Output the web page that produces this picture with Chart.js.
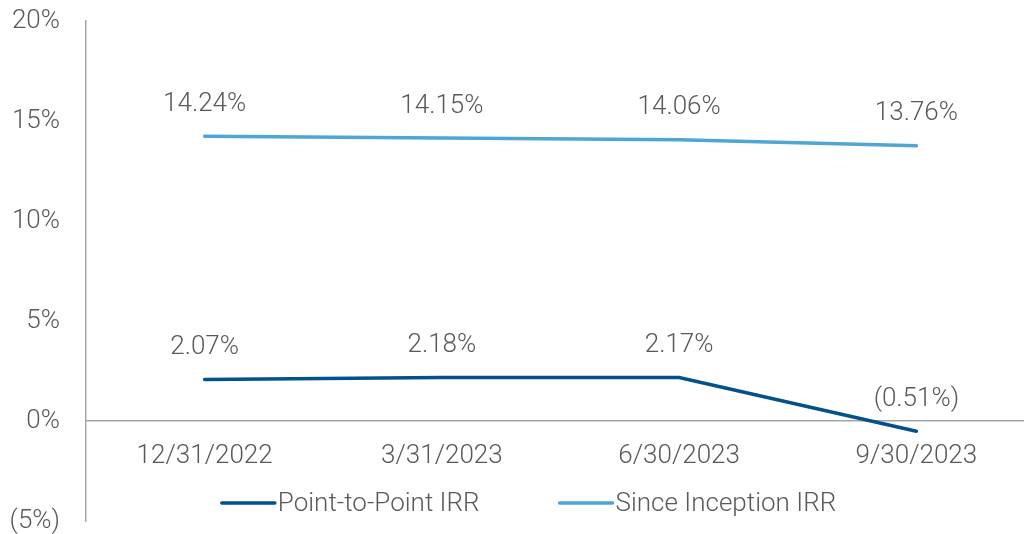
<!DOCTYPE html>
<html>
<head>
<meta charset="utf-8">
<script src="https://cdn.jsdelivr.net/npm/chart.js@4"></script>
<style>
  html, body { margin: 0; padding: 0; background: #fff; overflow: hidden; }
  #wrap { position: relative; width: 1035px; height: 534px; }
</style>
</head>
<body>
<div id="wrap"><canvas id="irrChart"></canvas></div>
<script>
// data
const quarters = ['12/31/2022', '3/31/2023', '6/30/2023', '9/30/2023'];
const pointToPoint = [2.07, 2.18, 2.17, -0.51];
const sinceInception = [14.24, 14.15, 14.06, 13.76];
const seriesNames = ['Point-to-Point IRR', 'Since Inception IRR'];
const yTicks = [-5, 0, 5, 10, 15, 20];

const textColor = '#595959';
const axisColor = '#a6a6a6';
const font = { family: 'Roboto', size: 26, weight: '300' };

function fmtPct(v, digits) {
    const s = Math.abs(v).toFixed(digits) + '%';
    return v < 0 ? '(' + s + ')' : s;
}

// value labels above each point
const valueLabels = {
    id: 'valueLabels',
    afterDatasetsDraw(chart) {
        const c = chart.ctx;
        c.save();
        c.font = `${font.weight} ${font.size}px ${font.family}`;
        c.fillStyle = textColor;
        c.textAlign = 'center';
        c.textBaseline = 'middle';
        chart.data.datasets.forEach((ds, i) => {
            chart.getDatasetMeta(i).data.forEach((pt, j) => {
                c.fillText(fmtPct(ds.data[j], 2), pt.x, pt.y - 32);
            });
        });
        c.restore();
    }
};

// legend drawn inside the plot, near the bottom
const bottomLegend = {
    id: 'bottomLegend',
    afterDraw(chart) {
        const c = chart.ctx;
        c.save();
        c.font = `${font.weight} ${font.size}px ${font.family}`;
        const lineLen = 53, textGap = 3, itemGap = 80, y = 503;
        const items = chart.data.datasets.map(ds => ({
            ds, w: lineLen + textGap + c.measureText(ds.label).width
        }));
        const total = items.reduce((a, it) => a + it.w, 0) + itemGap * (items.length - 1);
        let x = 529 - total / 2;
        items.forEach(it => {
            c.strokeStyle = it.ds.borderColor;
            c.lineWidth = 3.5;
            c.lineCap = 'round';
            c.beginPath();
            c.moveTo(x, y);
            c.lineTo(x + lineLen, y);
            c.stroke();
            c.fillStyle = textColor;
            c.textAlign = 'left';
            c.textBaseline = 'middle';
            c.fillText(it.ds.label, x + lineLen + textGap, y + 1);
            x += it.w + itemGap;
        });
        c.restore();
    }
};

new Chart(document.getElementById('irrChart'), {
    type: 'line',
    data: {
        labels: quarters,
        datasets: [{
            label: seriesNames[0],
            data: pointToPoint,
            borderColor: '#02528a',
            borderWidth: 3.5,
            borderCapStyle: 'round',
            pointRadius: 0,
            tension: 0
        }, {
            label: seriesNames[1],
            data: sinceInception,
            borderColor: '#4ea5d6',
            borderWidth: 3.5,
            borderCapStyle: 'round',
            pointRadius: 0,
            tension: 0
        }]
    },
    options: {
        responsive: true,
        maintainAspectRatio: false,
        animation: false,
        layout: { padding: { top: 21, bottom: 13, left: 0, right: 0 } },
        plugins: {
            legend: { display: false },
            tooltip: { enabled: false }
        },
        scales: {
            x: {
                position: { y: 0 },
                offset: true,
                afterFit: s => { s.paddingLeft = 0; s.paddingRight = 0; },
                grid: { display: false },
                border: { display: true, color: axisColor, width: 1.5 },
                ticks: { color: textColor, font: font, padding: 12, maxRotation: 0 }
            },
            y: {
                min: -5,
                max: 20,
                afterFit: s => { s.width = 86; s.paddingTop = 0; s.paddingBottom = 0; },
                afterBuildTicks: s => { s.ticks = yTicks.map(v => ({ value: v })); },
                grid: { display: false },
                border: { display: true, color: axisColor, width: 1.5 },
                ticks: {
                    color: textColor,
                    font: font,
                    padding: 18,
                    callback: v => fmtPct(v, 0)
                }
            }
        }
    },
    plugins: [valueLabels, bottomLegend]
});
</script>
</body>
</html>
